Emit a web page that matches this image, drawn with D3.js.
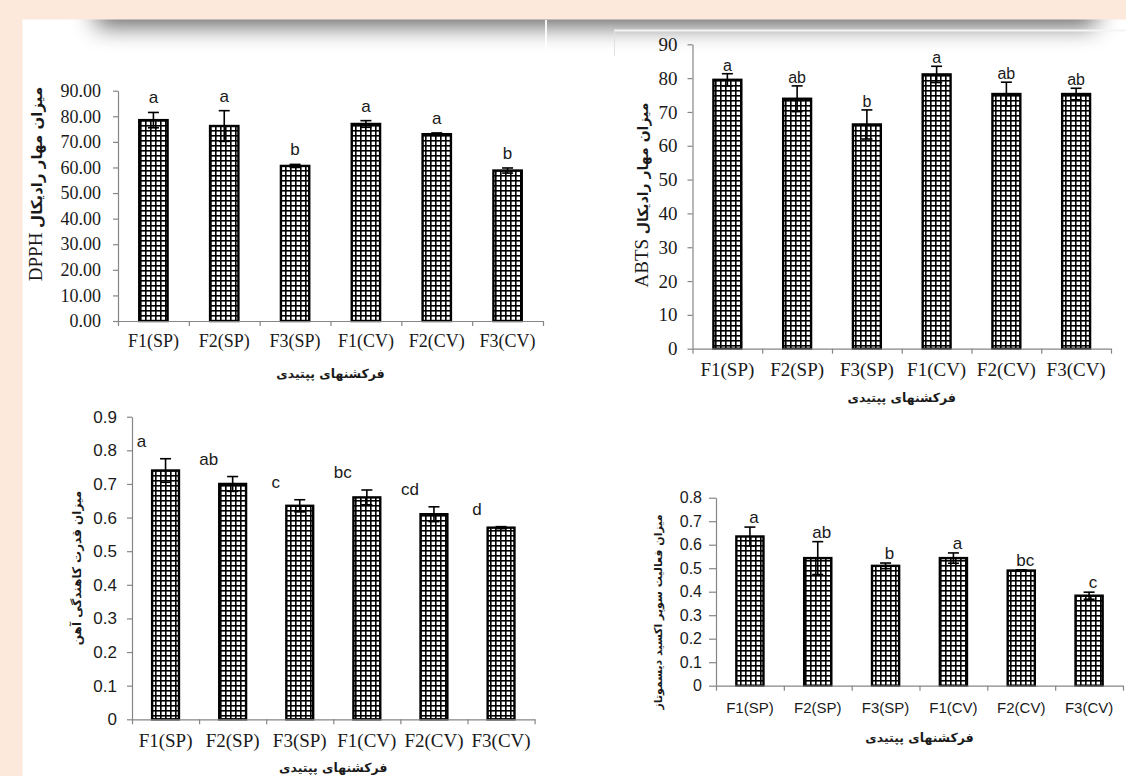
<!DOCTYPE html>
<html>
<head>
<meta charset="utf-8">
<script src="https://cdn.jsdelivr.net/npm/d3@7"></script>
<style>
  html, body { margin: 0; padding: 0; background: #ffffff; }
  svg { display: block; }
</style>
</head>
<body>
<svg id="chart" width="1126" height="776"></svg>
<script>
// ---------------- DATA ----------------
const categories = ["F1(SP)", "F2(SP)", "F3(SP)", "F1(CV)", "F2(CV)", "F3(CV)"];

const dpphMean    = [78.5, 76.2, 60.6, 77.0, 73.0, 58.8];
const dpphErr     = [3.0, 6.0, 0.6, 1.3, 0.5, 1.0];
const dpphLetters = ["a", "a", "b", "a", "a", "b"];
const dpphTicks   = [0, 10, 20, 30, 40, 50, 60, 70, 80, 90];

const abtsMean    = [79.5, 73.9, 66.3, 81.1, 75.3, 75.3];
const abtsErr     = [1.8, 3.8, 4.3, 2.4, 3.5, 1.7];
const abtsLetters = ["a", "ab", "b", "a", "ab", "ab"];
const abtsTicks   = [0, 10, 20, 30, 40, 50, 60, 70, 80, 90];

const frapMean    = [0.74, 0.70, 0.635, 0.66, 0.61, 0.57];
const frapErr     = [0.035, 0.022, 0.018, 0.022, 0.022, 0.003];
const frapLetters = ["a", "ab", "c", "bc", "cd", "d"];
const frapTicks   = [0, 0.1, 0.2, 0.3, 0.4, 0.5, 0.6, 0.7, 0.8, 0.9];

const sodMean     = [0.635, 0.543, 0.51, 0.543, 0.49, 0.383];
const sodErr      = [0.04, 0.07, 0.012, 0.022, 0.003, 0.015];
const sodLetters  = ["a", "ab", "b", "a", "bc", "c"];
const sodTicks    = [0, 0.1, 0.2, 0.3, 0.4, 0.5, 0.6, 0.7, 0.8];

const xTitle      = "فرکشنهای پپتیدی";
const dpphTitleFa = "میزان مهار رادیکال";
const abtsTitleFa = "میزان مهار رادیکال";
const frapTitle   = "میزان قدرت کاهندگی آهن";
const sodTitle    = "میزان فعالیت سوپر اکسید دیسموتاز";

// ---------------- DRAWING ----------------
const SERIF = "'Liberation Serif', 'Times New Roman', serif";
const SANS  = "'Liberation Sans', Arial, sans-serif";
const FA    = "'DejaVu Sans', 'Noto Sans', sans-serif";

const svg = d3.select("#chart");
const defs = svg.append("defs");

// background
svg.append("rect").attr("width", 1126).attr("height", 776).attr("fill", "#ffffff");

// top shadow
const blur = defs.append("filter").attr("id", "shadowBlur")
  .attr("x", "-10%").attr("y", "-100%").attr("width", "120%").attr("height", "300%");
blur.append("feGaussianBlur").attr("stdDeviation", 12);
svg.append("rect").attr("x", 96).attr("y", -40).attr("width", 1000).attr("height", 66)
  .attr("fill", "#000").attr("opacity", 0.62).attr("filter", "url(#shadowBlur)");

// frame divider & panel frame
svg.append("rect").attr("x", 545).attr("y", 20).attr("width", 2).attr("height", 34)
  .attr("fill", "#ffffff").attr("opacity", 0.9);
svg.append("line").attr("x1", 614).attr("x2", 1126).attr("y1", 30.5).attr("y2", 30.5)
  .attr("stroke", "#f4f4f4").attr("stroke-width", 2);
svg.append("line").attr("x1", 614.5).attr("x2", 614.5).attr("y1", 30).attr("y2", 56)
  .attr("stroke", "#e2e2e2").attr("stroke-width", 1);

// peach border strips
svg.append("rect").attr("x", 0).attr("y", 0).attr("width", 1126).attr("height", 19.5).attr("fill", "#fde9db");
svg.append("rect").attr("x", 0).attr("y", 0).attr("width", 22.5).attr("height", 776).attr("fill", "#fde9db");

// grid pattern
const pat = defs.append("pattern").attr("id", "grid")
  .attr("patternUnits", "userSpaceOnUse").attr("width", 5).attr("height", 5);
pat.append("rect").attr("width", 5).attr("height", 5).attr("fill", "#ffffff");
pat.append("rect").attr("x", 0).attr("y", 0).attr("width", 1.6).attr("height", 5).attr("fill", "#000");
pat.append("rect").attr("x", 0).attr("y", 0).attr("width", 5).attr("height", 1.6).attr("fill", "#000");

function drawPanel(cfg, means, errs, letters, ticks) {
  const g = svg.append("g");
  const x = d3.scaleBand().domain(categories).range([cfg.left, cfg.right])
    .paddingInner(0.6).paddingOuter(0.3);
  const xb = d3.scaleLinear().domain([0, categories.length]).range([cfg.left, cfg.right]);
  const y = d3.scaleLinear().domain([0, cfg.ymax]).range([cfg.bottom, cfg.top]);

  // bars
  g.selectAll("rect.bar").data(categories).join("rect")
    .attr("class", "bar")
    .attr("x", d => x(d))
    .attr("width", x.bandwidth())
    .attr("y", (d, i) => y(means[i]))
    .attr("height", (d, i) => y(0) - y(means[i]))
    .attr("fill", "url(#grid)")
    .attr("stroke", "#000")
    .attr("stroke-width", 2.4);

  // error bars
  const cx = d => x(d) + x.bandwidth() / 2;
  const eb = g.append("g").attr("stroke", "#000").attr("stroke-width", 1.6);
  eb.selectAll("line.v").data(categories).join("line")
    .attr("x1", cx).attr("x2", cx)
    .attr("y1", (d, i) => y(means[i] + errs[i]))
    .attr("y2", (d, i) => y(means[i] - errs[i]));
  eb.selectAll("line.t").data(categories).join("line")
    .attr("x1", d => cx(d) - 5.5).attr("x2", d => cx(d) + 5.5)
    .attr("y1", (d, i) => y(means[i] + errs[i]))
    .attr("y2", (d, i) => y(means[i] + errs[i]));
  eb.selectAll("line.b").data(categories).join("line")
    .attr("x1", d => cx(d) - 5.5).attr("x2", d => cx(d) + 5.5)
    .attr("y1", (d, i) => y(means[i] - errs[i]))
    .attr("y2", (d, i) => y(means[i] - errs[i]));

  // letters
  g.selectAll("text.letter").data(categories).join("text")
    .attr("x", d => cx(d) + cfg.letterDx)
    .attr("y", (d, i) => y(means[i] + errs[i]) - cfg.letterGap)
    .attr("text-anchor", "middle")
    .attr("font-family", SANS)
    .attr("font-size", cfg.letterSize)
    .attr("fill", "#1a1a1a")
    .text((d, i) => letters[i]);

  // y axis
  const ya = g.append("g").attr("transform", `translate(${cfg.left},0)`)
    .call(d3.axisLeft(y).tickValues(ticks).tickFormat(cfg.fmt)
      .tickSizeInner(cfg.tickLen).tickSizeOuter(0).tickPadding(cfg.yPad));
  ya.select(".domain").attr("stroke", "#868686").attr("stroke-width", 1.2);
  ya.selectAll(".tick line").attr("stroke", "#868686").attr("stroke-width", 1.2);
  ya.selectAll(".tick text").attr("font-family", cfg.yFont).attr("font-size", cfg.ySize)
    .attr("fill", "#1a1a1a");

  // x axis line & boundary ticks
  const xa = g.append("g").attr("transform", `translate(0,${cfg.bottom})`)
    .call(d3.axisBottom(xb).tickValues(d3.range(0, categories.length + 1))
      .tickFormat("").tickSizeInner(5).tickSizeOuter(0));
  xa.select(".domain").attr("stroke", "#868686").attr("stroke-width", 1.2);
  xa.selectAll(".tick line").attr("stroke", "#868686").attr("stroke-width", 1.2);

  // x category labels
  const xl = g.append("g").attr("transform", `translate(0,${cfg.bottom})`)
    .call(d3.axisBottom(x).tickSize(0).tickPadding(cfg.xPad));
  xl.select(".domain").remove();
  xl.selectAll(".tick text").attr("font-family", cfg.xFont).attr("font-size", cfg.xSize)
    .attr("fill", "#1a1a1a");

  // x title
  g.append("text")
    .attr("x", (cfg.left + cfg.right) / 2)
    .attr("y", cfg.xTitleY)
    .attr("text-anchor", "middle")
    .attr("font-family", FA)
    .attr("font-size", 12.5)
    .attr("font-weight", "bold")
    .attr("fill", "#1a1a1a")
    .text(xTitle);

  // y title
  const yt = g.append("text")
    .attr("transform", `translate(${cfg.yTitleX},${cfg.yTitleY}) rotate(-90)`)
    .attr("text-anchor", "middle")
    .attr("fill", "#1a1a1a");
  if (cfg.latin) {
    yt.append("tspan").attr("font-family", SERIF).attr("font-size", 19).text(cfg.latin + " ");
  }
  yt.append("tspan").attr("font-family", FA).attr("font-size", cfg.faSize)
    .attr("font-weight", "bold").text(cfg.fa);
}

const fmt2 = d3.format(".2f");
const fmtInt = d3.format("d");
const fmtDec = d => d === 0 ? "0" : d3.format(".1f")(d);

drawPanel({
  left: 118, right: 543, top: 90.7, bottom: 321, ymax: 90,
  fmt: fmt2, tickLen: 5, yPad: 12, yFont: SERIF, ySize: 18,
  xFont: SERIF, xSize: 18, xPad: 13,
  letterDx: 0, letterGap: 9, letterSize: 17,
  xTitleY: 378, yTitleX: 42, yTitleY: 184,
  latin: "DPPH", fa: dpphTitleFa, faSize: 15
}, dpphMean, dpphErr, dpphLetters, dpphTicks);

drawPanel({
  left: 692.5, right: 1111, top: 44.3, bottom: 348.7, ymax: 90,
  fmt: fmtInt, tickLen: 5, yPad: 10, yFont: SERIF, ySize: 19,
  xFont: SERIF, xSize: 19, xPad: 14,
  letterDx: 0, letterGap: 3, letterSize: 16,
  xTitleY: 402, yTitleX: 648, yTitleY: 195,
  latin: "ABTS", fa: abtsTitleFa, faSize: 14
}, abtsMean, abtsErr, abtsLetters, abtsTicks);

drawPanel({
  left: 132, right: 534.6, top: 416.7, bottom: 719.3, ymax: 0.9,
  fmt: fmtDec, tickLen: 5, yPad: 10, yFont: SANS, ySize: 17,
  xFont: SERIF, xSize: 19, xPad: 14,
  letterDx: -24, letterGap: 12, letterSize: 17,
  xTitleY: 772, yTitleX: 81, yTitleY: 568,
  latin: null, fa: frapTitle, faSize: 12
}, frapMean, frapErr, frapLetters, frapTicks);

drawPanel({
  left: 716, right: 1123, top: 497.7, bottom: 685.7, ymax: 0.8,
  fmt: fmtDec, tickLen: 7, yPad: 7, yFont: SANS, ySize: 16,
  xFont: SANS, xSize: 15, xPad: 17,
  letterDx: 4, letterGap: 4, letterSize: 17,
  xTitleY: 742, yTitleX: 662, yTitleY: 612,
  latin: null, fa: sodTitle, faSize: 11
}, sodMean, sodErr, sodLetters, sodTicks);
</script>
</body>
</html>
